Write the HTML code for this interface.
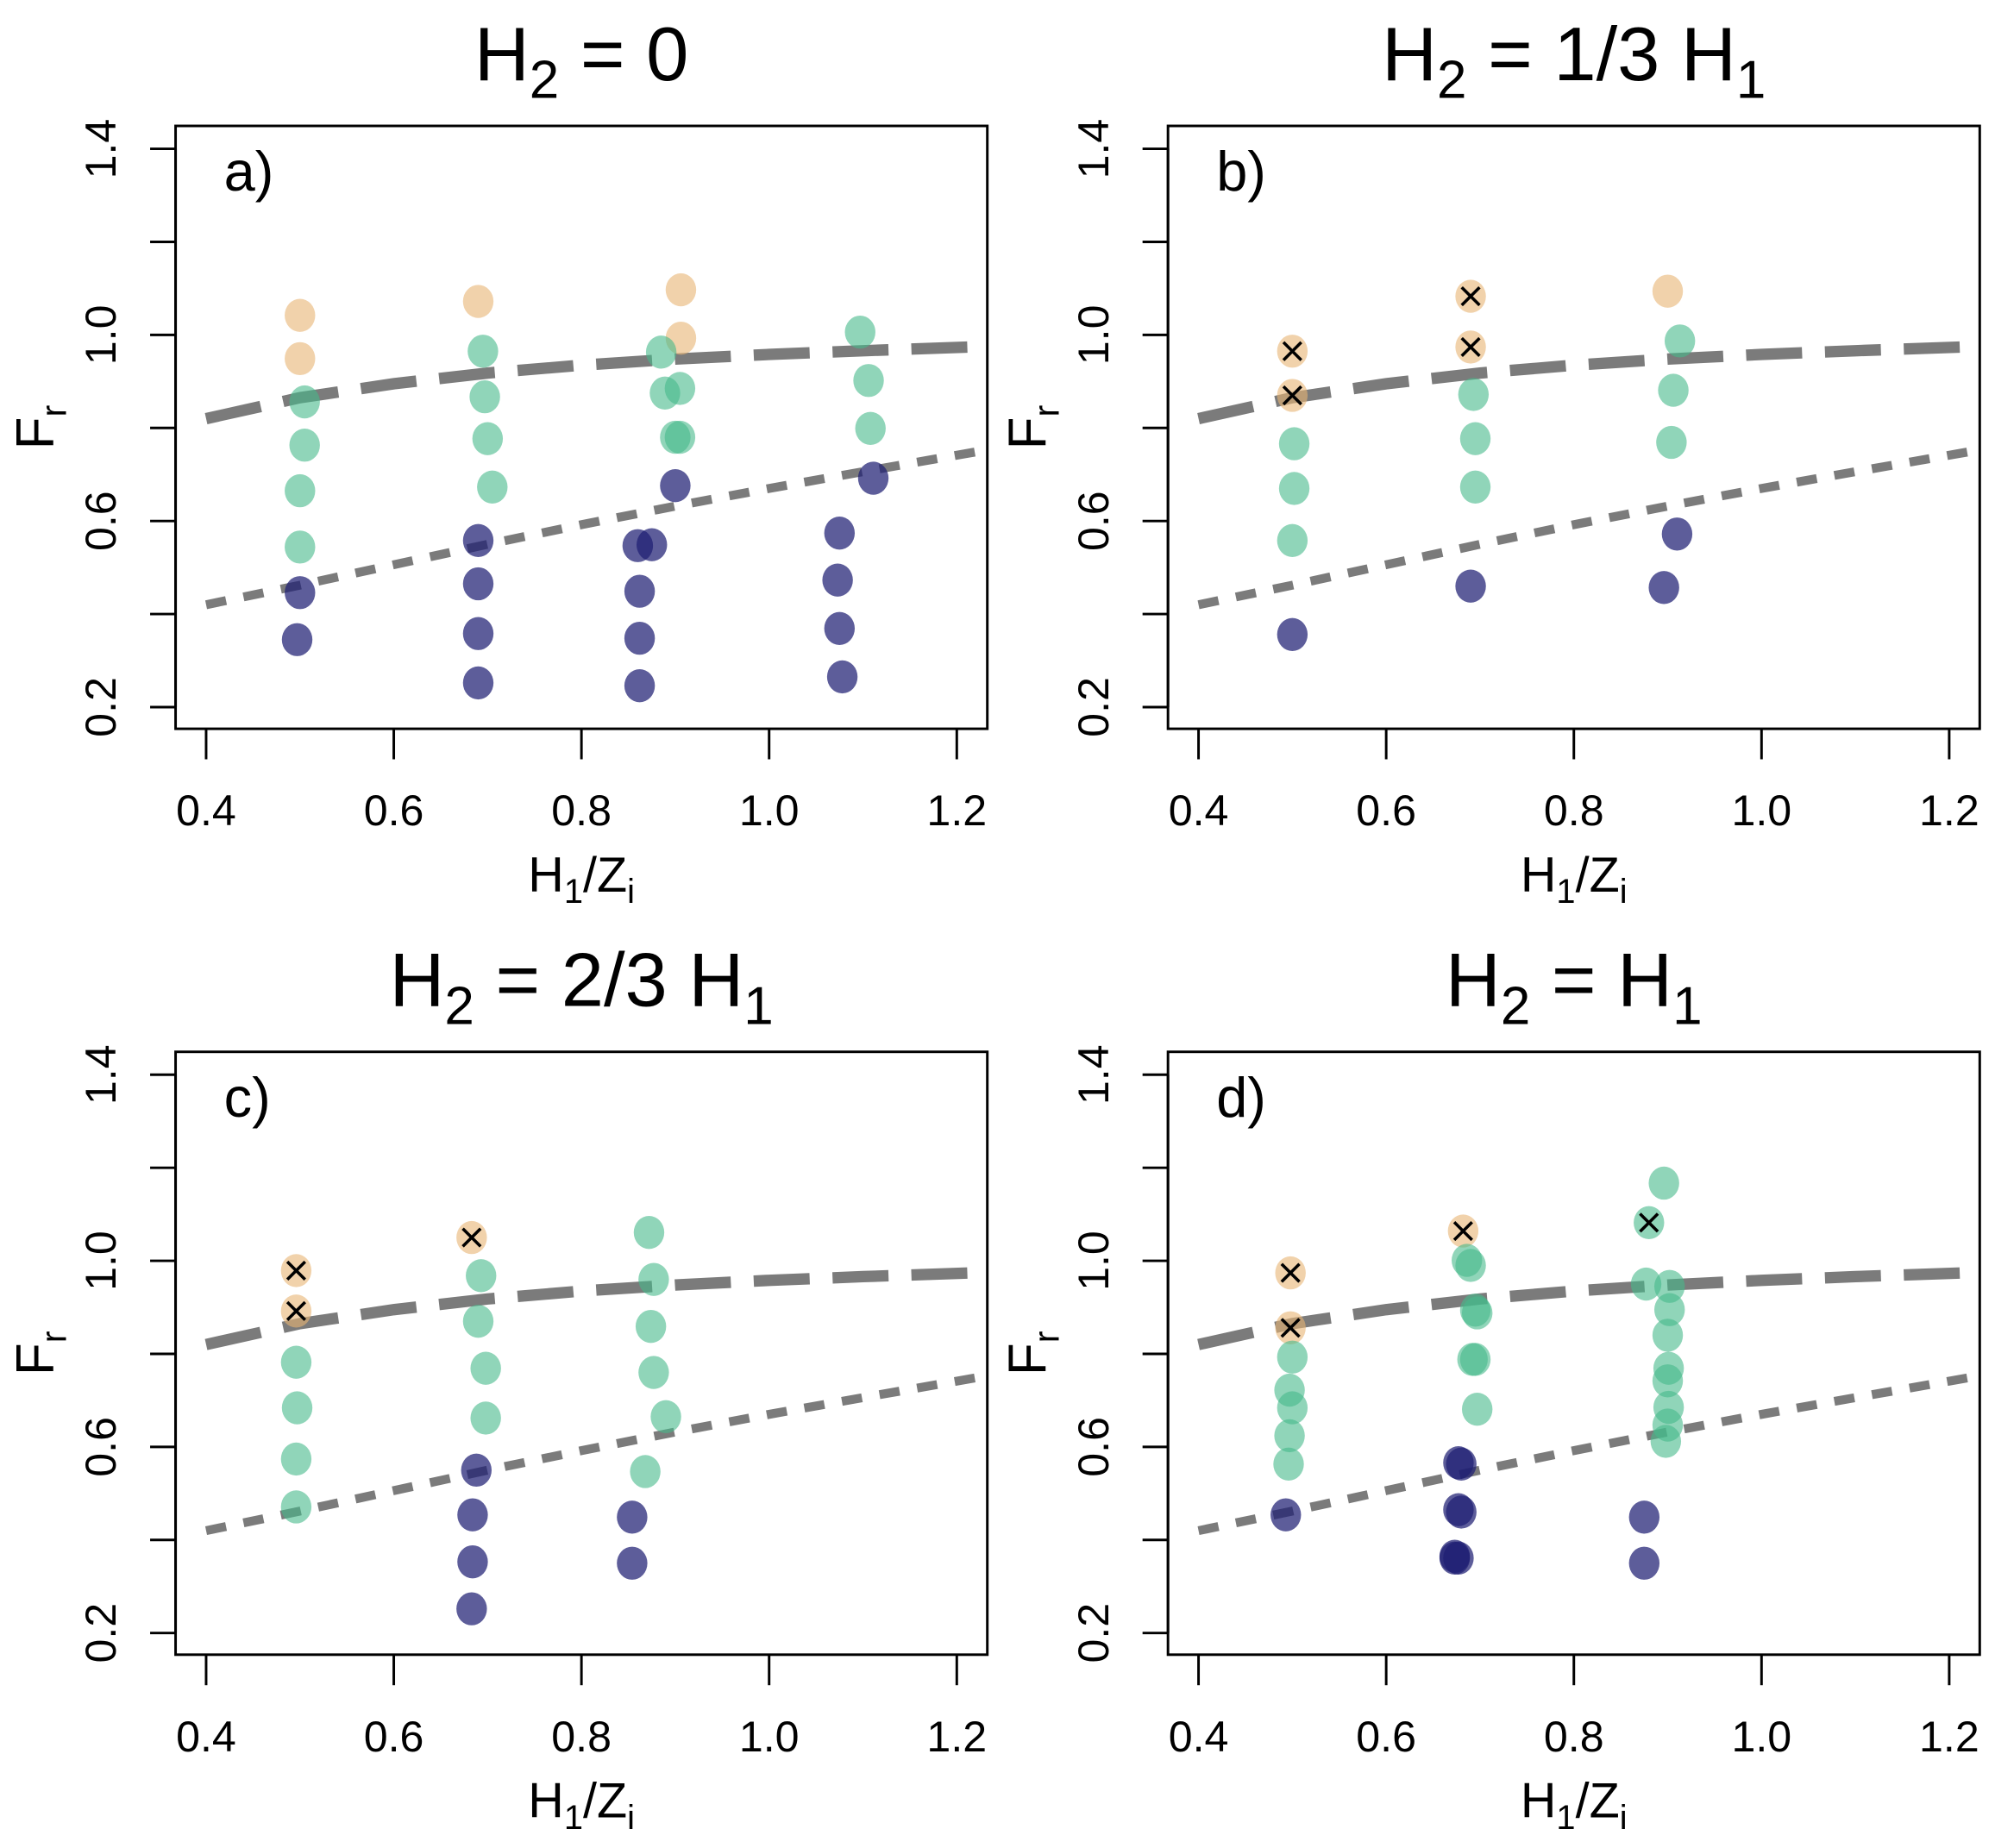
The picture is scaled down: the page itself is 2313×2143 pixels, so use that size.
<!DOCTYPE html>
<html><head><meta charset="utf-8">
<style>html,body{margin:0;padding:0;background:#fff;}svg{display:block;font-family:"Liberation Sans",sans-serif;}</style>
</head><body>
<svg id="fig" width="2313" height="2143" viewBox="0 0 1568 1453" preserveAspectRatio="none" xmlns="http://www.w3.org/2000/svg"></svg>
<script>
// Curve data (x, Fr)
const dashX=[0.4,0.5,0.6,0.7,0.8,0.9,1.0,1.1,1.23];
const dashY=[0.82,0.865,0.895,0.918,0.935,0.948,0.958,0.966,0.975];
const dotX=[0.4,0.5,0.6,0.7,0.8,0.9,1.0,1.1,1.23];
const dotY=[0.42,0.462,0.506,0.55,0.592,0.632,0.67,0.706,0.752];
const yTicks=[0.2,0.4,0.6,0.8,1.0,1.2,1.4];
const yLabels=["0.2","","0.6","","1.0","","1.4"];
const xTicks=[0.4,0.6,0.8,1.0,1.2];
const xLabels=["0.4","0.6","0.8","1.0","1.2"];
// Panel a (c: 0 navy,1 green,2 orange; m: 1 = cross)
const a_x=[0.5,0.5,0.505,0.505,0.5,0.5,0.5,0.497, 0.69,0.695,0.697,0.7,0.705,0.69,0.69,0.69,0.69, 0.906,0.906,0.885,0.889,0.905,0.9,0.905,0.9,0.86,0.875,0.862,0.862,0.862, 1.097,1.106,1.108,1.111,1.075,1.073,1.075,1.078];
const a_y=[1.042,0.949,0.856,0.763,0.665,0.544,0.446,0.345, 1.072,0.965,0.867,0.777,0.673,0.558,0.465,0.358,0.252, 1.097,0.993,0.963,0.875,0.885,0.78,0.78,0.676,0.547,0.549,0.449,0.348,0.246, 1.006,0.902,0.799,0.692,0.574,0.473,0.369,0.265];
const a_c=[2,2,1,1,1,1,0,0, 2,1,1,1,1,0,0,0,0, 2,2,1,1,1,1,1,0,0,0,0,0,0, 1,1,1,0,0,0,0,0];
const a_m=a_x.map(()=>0);
// Panel b
const b_x=[0.5,0.5,0.502,0.502,0.5,0.5, 0.69,0.69,0.693,0.695,0.695,0.69, 0.9,0.913,0.906,0.904,0.91,0.896];
const b_y=[0.965,0.870,0.766,0.670,0.558,0.356, 1.083,0.974,0.872,0.777,0.673,0.460, 1.094,0.987,0.881,0.769,0.572,0.457];
const b_c=[2,2,1,1,1,0, 2,2,1,1,1,0, 2,1,1,1,0,0];
const b_m=[1,1,0,0,0,0, 1,1,0,0,0,0, 0,0,0,0,0,0];
// Panel c
const c_x=[0.496,0.496,0.496,0.497,0.496,0.496, 0.683,0.693,0.69,0.698,0.698,0.688,0.684,0.684,0.683, 0.872,0.877,0.874,0.877,0.89,0.868,0.854,0.854];
const c_y=[0.979,0.892,0.782,0.684,0.574,0.471, 1.050,0.968,0.870,0.769,0.662,0.550,0.454,0.353,0.252, 1.061,0.960,0.859,0.760,0.665,0.547,0.449,0.350];
const c_c=[2,2,1,1,1,1, 2,1,1,1,1,0,0,0,0, 1,1,1,1,1,1,0,0];
const c_m=[1,1,0,0,0,0, 1,0,0,0,0,0,0,0,0, 0,0,0,0,0,0,0,0];
// Panel d
const d_x=[0.498,0.498,0.5,0.497,0.5,0.497,0.496,0.493, 0.682,0.686,0.69,0.695,0.697,0.695,0.692,0.697,0.677,0.68,0.677,0.68,0.673,0.677,0.673, 0.896,0.88,0.877,0.902,0.902,0.9,0.901,0.9,0.901,0.9,0.898,0.875,0.875];
const d_y=[0.974,0.856,0.793,0.722,0.684,0.624,0.563,0.454, 1.064,1.001,0.99,0.894,0.888,0.788,0.788,0.681,0.566,0.563,0.465,0.46,0.361,0.361,0.365, 1.167,1.082,0.950,0.945,0.895,0.840,0.769,0.742,0.685,0.647,0.612,0.449,0.350];
const d_c=[2,2,1,1,1,1,1,0, 2,1,1,1,1,1,1,1,0,0,0,0,0,0,0, 1,1,1,1,1,1,1,1,1,1,1,0,0];
const d_m=[1,1,0,0,0,0,0,0, 1,0,0,0,0,0,0,0,0,0,0,0,0,0,0, 0,1,0,0,0,0,0,0,0,0,0,0,0];

const NS="http://www.w3.org/2000/svg";
const svg=document.getElementById('fig');
function mk(t,a,p){const e=document.createElementNS(NS,t);for(const k in a)e.setAttribute(k,a[k]);(p||svg).appendChild(e);return e;}
const fills=["rgba(30,30,115,0.72)","rgba(70,185,138,0.6)","rgba(232,180,115,0.6)"];

function panel(id,ox,oy,letter,titleParts,X,Y,C,M){
  const g=mk('g',{});
  
  
  const L=ox+138,T=oy+99,W=638,H=474;
  const sx=v=>ox+162+(v-0.4)*737.5;
  const sy=v=>oy+117+(1.4-v)*365.8;
  const tt=mk('text',{x:ox+457,y:oy+63,'text-anchor':'middle','font-size':60,fill:'#000'},g);
  
  
  tt.innerHTML=titleParts;
  const cp=mk('clipPath',{id:'clip'+id},g);
  mk('rect',{x:L,y:T,width:W,height:H},cp);
  const dpath=dashX.map((v,i)=>(i?'L':'M')+sx(v)+' '+sy(dashY[i])).join(' ');
  const dl=mk('path',{d:dpath,fill:'none',stroke:'#7b7b7b','stroke-width':9,'stroke-dasharray':'44 18','clip-path':'url(#clip'+id+')'},g);
  
  
  const opath=dotX.map((v,i)=>(i?'L':'M')+sx(v)+' '+sy(dotY[i])).join(' ');
  const ol=mk('path',{d:opath,fill:'none',stroke:'#7b7b7b','stroke-width':7,'stroke-dasharray':'16 14','clip-path':'url(#clip'+id+')'},g);
  
  
  X.forEach((v,i)=>{
    const cx=sx(v),cy=sy(Y[i]);
    const c=mk('ellipse',{cx:cx,cy:cy,rx:12,ry:13,fill:fills[C[i]]},g);
    
    
    if(M[i]){
      const x=mk('path',{d:`M${cx-7} ${cy-7}L${cx+7} ${cy+7}M${cx+7} ${cy-7}L${cx-7} ${cy+7}`,stroke:'#000','stroke-width':2.4},g);
      
      
    }
  });
  const bx=mk('rect',{x:L,y:T,width:W,height:H,fill:'none',stroke:'#000','stroke-width':2},g);
  
  
  yTicks.forEach((v,i)=>{
    mk('line',{x1:L,x2:L-20,y1:sy(v),y2:sy(v),stroke:'#000','stroke-width':2},g);
    if(yLabels[i]){
      const t=mk('text',{x:0,y:0,'font-size':34,'text-anchor':'middle',transform:`translate(${ox+91},${sy(v)}) rotate(-90)`},g);
      
      
      t.textContent=yLabels[i];
    }
  });
  mk('line',{x1:L,x2:L,y1:sy(0.2),y2:sy(1.4),stroke:'#000','stroke-width':2},g);
  xTicks.forEach((v,i)=>{
    mk('line',{x1:sx(v),x2:sx(v),y1:T+H,y2:T+H+24,stroke:'#000','stroke-width':2},g);
    const t=mk('text',{x:sx(v),y:oy+649,'font-size':34,'text-anchor':'middle'},g);
    
    
    t.textContent=xLabels[i];
  });
  const xt=mk('text',{x:ox+457,y:oy+701,'font-size':39,'text-anchor':'middle'},g);
  
  
  xt.innerHTML='H<tspan font-size="27" dy="9">1</tspan><tspan dy="-9">/Z</tspan><tspan font-size="27" dy="9">i</tspan>';
  const yt=mk('text',{x:0,y:0,'font-size':42,'text-anchor':'middle',transform:`translate(${ox+42},${oy+336}) rotate(-90)`},g);
  
  
  yt.innerHTML='F<tspan font-size="28" dy="10">r</tspan>';
  const lt=mk('text',{x:ox+176,y:oy+150,'font-size':44},g);
  
  
  lt.textContent=letter;
}
const sub=s=>`<tspan font-size="42" dy="14">${s}</tspan><tspan dy="-14">`;
panel('a',0,0,'a)','H'+sub('2')+' = 0</tspan>',a_x,a_y,a_c,a_m);
panel('b',780,0,'b)','H'+sub('2')+' = 1/3 H</tspan>'+sub('1')+'</tspan>',b_x,b_y,b_c,b_m);
panel('c',0,728,'c)','H'+sub('2')+' = 2/3 H</tspan>'+sub('1')+'</tspan>',c_x,c_y,c_c,c_m);
panel('d',780,728,'d)','H'+sub('2')+' = H</tspan>'+sub('1')+'</tspan>',d_x,d_y,d_c,d_m);
</script>
</body></html>
